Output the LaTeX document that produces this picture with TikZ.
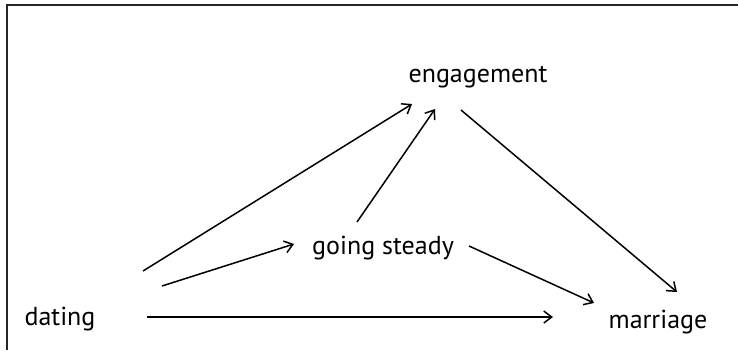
\documentclass[tikz,border=0pt]{standalone}
\usepackage{fontspec}
\setmainfont{PT Sans}
\usepackage{tikz}
\usetikzlibrary{calc,arrows.meta}
\newcommand{\linkcolor}{black}
\newcommand{\linkwidth}{0.75pt}
\newcommand{\framewidth}{1pt}

\begin{document}
\begin{tikzpicture}[x=0.5pt,y=-0.5pt,font=\fontsize{13}{15}\selectfont]
\useasboundingbox (0,0) rectangle (738,350);
\draw[black!85] [line width = \framewidth] (738,5) -- (7,5) -- (7,350);
\node[inner sep=0pt, anchor=base] (1) at (60, 325) {dating};
\node[inner sep=0pt, anchor=base] (2) at (383, 254) {going steady};
\node[inner sep=0pt, anchor=base] (3) at (478, 82) {engagement};
\node[inner sep=0pt, anchor=base] (4) at (658, 328) {marriage};
%1234
\draw[\linkcolor] [line width = \linkwidth, -{Straight Barb[length=4pt,width=6pt]}] ([shift={(83,-54)}]1.base) -- ([shift={(-66,22)}]3.base);
\draw[\linkcolor] [line width = \linkwidth, -{Straight Barb[length=4pt,width=6pt]}] ([shift={(102,-39)}]1.base) -- ([shift={(-89,-10)}]2.base);
\draw[\linkcolor] [line width = \linkwidth, -{Straight Barb[length=4pt,width=6pt]}] ([shift={(-26,-32)}]2.base) -- ([shift={(-43,27)}]3.base);
\draw[\linkcolor] [line width = \linkwidth, -{Straight Barb[length=4pt,width=6pt]}] ([shift={(-17,28)}]3.base) -- ([shift={(19,-36)}]4.base);
\draw[\linkcolor] [line width = \linkwidth, -{Straight Barb[length=4pt,width=6pt]}] ([shift={(86,-8)}]2.base) -- ([shift={(-64,-25)}]4.base);
\draw[\linkcolor] [line width = \linkwidth, -{Straight Barb[length=4pt,width=6pt]}] ([shift={(87,-8)}]1.base) -- ([shift={(-105,-11)}]4.base);
\end{tikzpicture}
\end{document}
